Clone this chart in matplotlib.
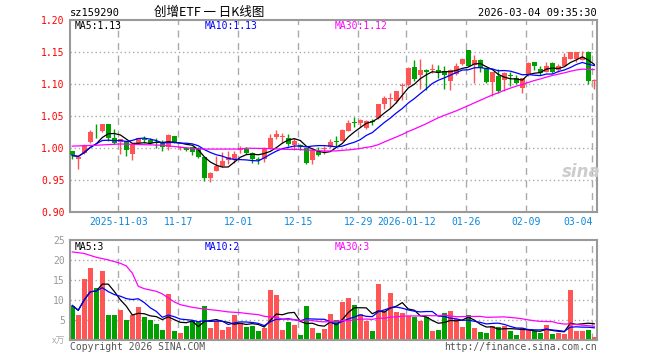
import numpy as np
import pandas as pd
import matplotlib
matplotlib.use("Agg")
import matplotlib.pyplot as plt

# daily OHLC (2025-10-22 .. 2026-03-04), volume in 万
opens = [0.995, 0.982, 0.992, 1.009, 1.030, 1.026, 1.0375, 1.015, 1.009, 1.010,
         0.990, 1.008, 1.0135, 1.0115, 1.009, 1.007, 1.0016, 1.0177, 0.9995, 1.000,
         1.0016, 1.000, 0.985, 0.953, 0.9635, 0.9714, 0.981, 0.982, 0.9964, 0.9984,
         0.992, 0.983, 0.983, 0.999, 1.017, 1.0167, 1.0156, 1.005, 1.0036, 0.9995,
         0.981, 0.9943, 0.9974, 1.001, 1.0104, 1.0104, 1.027, 1.0401, 1.039, 1.031,
         1.0427, 1.046, 1.068, 1.0766, 1.074, 1.0974, 1.098, 1.126, 1.1146, 1.121,
         1.122, 1.1224, 1.120, 1.104, 1.116, 1.1313, 1.1536, 1.1292, 1.138, 1.1234,
         1.1031, 1.113, 1.1068, 1.1135, 1.1094, 1.0938, 1.1135, 1.1338, 1.124, 1.1188,
         1.1328, 1.1214, 1.1286, 1.1396, 1.1396, 1.138, 1.150, 1.1052]
closes = [0.988, 0.985, 1.005, 1.024, 1.029, 1.0375, 1.0146, 1.0068, 1.013, 0.9964,
          1.004, 1.0146, 1.012, 1.0068, 1.0073, 1.0005, 1.0208, 1.0078, 1.0016, 0.9964,
          0.9937, 0.9854, 0.9526, 0.961, 0.9714, 0.979, 0.986, 0.990, 0.9995, 0.992,
          0.983, 0.981, 1.000, 1.016, 1.021, 1.018, 1.006, 1.0104, 1.0016, 0.9766,
          0.997, 0.988, 0.9995, 1.0089, 1.0089, 1.0286, 1.039, 1.0385, 1.043, 1.0427,
          1.0406, 1.068, 1.0776, 1.078, 1.0885, 1.099, 1.125, 1.107, 1.121, 1.119,
          1.1234, 1.119, 1.1135, 1.121, 1.1286, 1.1396, 1.1286, 1.138, 1.125, 1.1031,
          1.1182, 1.0896, 1.1172, 1.112, 1.1016, 1.1094, 1.1328, 1.1276, 1.1172, 1.1286,
          1.118, 1.1286, 1.1417, 1.150, 1.1495, 1.1417, 1.1042, 1.1068]
highs = [0.995, 0.986, 1.006, 1.028, 1.0375, 1.038, 1.038, 1.029, 1.014, 1.011,
         1.005, 1.016, 1.019, 1.015, 1.0146, 1.0115, 1.022, 1.018, 1.003, 1.001,
         1.002, 1.001, 0.986, 0.962, 0.987, 0.9937, 0.995, 0.995, 1.0026, 1.0016,
         0.993, 0.986, 1.001, 1.021, 1.0286, 1.023, 1.022, 1.0146, 1.006, 1.000,
         0.998, 1.001, 1.0026, 1.013, 1.018, 1.029, 1.044, 1.048, 1.045, 1.043,
         1.045, 1.068, 1.081, 1.086, 1.0896, 1.1016, 1.126, 1.138, 1.1396, 1.124,
         1.1318, 1.130, 1.1276, 1.123, 1.133, 1.140, 1.1536, 1.1458, 1.139, 1.124,
         1.119, 1.1234, 1.118, 1.118, 1.1135, 1.110, 1.134, 1.135, 1.1276, 1.1344,
         1.1344, 1.1318, 1.1484, 1.150, 1.150, 1.151, 1.152, 1.107]
lows = [0.982, 0.967, 0.991, 1.008, 1.015, 1.025, 1.011, 1.006, 0.991, 0.987,
        0.981, 1.007, 1.007, 1.006, 0.999, 0.995, 0.997, 1.007, 0.997, 0.995,
        0.988, 0.984, 0.948, 0.9464, 0.963, 0.970, 0.974, 0.9755, 0.992, 0.9896,
        0.9766, 0.974, 0.977, 0.998, 1.013, 1.008, 1.0026, 0.997, 0.997, 0.974,
        0.974, 0.987, 0.9896, 1.000, 1.0026, 1.010, 1.026, 1.033, 1.033, 1.030,
        1.036, 1.045, 1.061, 1.0625, 1.070, 1.0745, 1.097, 1.104, 1.092, 1.091,
        1.117, 1.109, 1.0927, 1.091, 1.1146, 1.130, 1.128, 1.1016, 1.1188, 1.102,
        1.0818, 1.086, 1.0896, 1.096, 1.100, 1.086, 1.112, 1.1214, 1.1135, 1.118,
        1.117, 1.1188, 1.128, 1.139, 1.1344, 1.137, 1.1005, 1.0927]
volumes = [8.7, 6.3, 15.4, 18.1, 13.1, 17.3, 6.3, 6.3, 7.7, 5.1,
           6.3, 8.3, 5.8, 5.1, 4.1, 2.6, 11.7, 2.3, 1.8, 3.6,
           4.8, 4.6, 8.6, 3.1, 4.8, 2.6, 3.3, 6.3, 4.3, 3.3,
           3.6, 2.3, 3.1, 12.6, 11.3, 2.6, 4.6, 3.8, 1.3, 8.6,
           3.1, 1.8, 2.8, 6.6, 5.1, 9.6, 10.6, 8.8, 6.6, 4.9,
           2.3, 14.1, 7.3, 11.8, 7.1, 6.8, 6.1, 5.8, 4.8, 5.8,
           2.3, 2.6, 6.8, 7.3, 5.3, 3.3, 6.3, 3.1, 2.1, 1.8,
           3.6, 3.3, 3.6, 2.3, 1.3, 3.1, 2.8, 2.3, 1.8, 3.8,
           1.6, 1.8, 1.6, 12.6, 2.3, 2.3, 2.6, 0.8]

# MA30 before a full 30-day window exists
ma30_early_idx = [0, 4, 8, 15, 21, 28]
ma30_early_val = [1.0026, 1.004, 1.006, 1.004, 0.998, 0.998]
vma30_early_idx = [0, 2, 4, 6, 8, 9, 10, 11, 12, 14, 15, 16, 17, 18, 20, 22, 24, 26, 28]
vma30_early_val = [22.1, 21.7, 20.75, 20.1, 19.25, 18.6, 16.8, 13.5, 12.9, 12.25,
                   11.6, 10.6, 9.6, 8.9, 8.25, 7.8, 7.5, 7.1, 6.9]

tick_idx = [8, 18, 28, 38, 48, 56, 66, 76, 87]
tick_lbl = ['2025-11-03', '11-17', '12-01', '12-15', '12-29', '2026-01-12',
            '01-26', '02-09', '03-04']

RED = '#ff5555'
GREEN = '#00a000'
GRID = '#aaaaaa'
MONO = 'DejaVu Sans Mono'

n = len(closes)
x = np.arange(n)
o = np.array(opens)
c = np.array(closes)
up = c >= o
colors = [RED if u else GREEN for u in up]

cs = pd.Series(closes)
vs = pd.Series(volumes)
ma5 = cs.rolling(5, min_periods=1).mean()
ma10 = cs.rolling(10, min_periods=1).mean()
ma30 = cs.rolling(30).mean()
vma5 = vs.rolling(5, min_periods=1).mean()
vma10 = vs.rolling(10, min_periods=1).mean()
vma30 = vs.rolling(30).mean()

W, H = 660, 360
fig = plt.figure(figsize=(W / 100, H / 100), dpi=100)


def px_axes(l, t, r, b):
    return fig.add_axes([l / W, 1 - b / H, (r - l) / W, (b - t) / H])


ax = px_axes(70.3, 20, 597.3, 211.7)
axv = px_axes(70.3, 240.3, 597.3, 340.3)

for a in (ax, axv):
    a.set_xlim(-0.33, 87.5)
    for s in a.spines.values():
        s.set_color('#999999')
        s.set_linewidth(1.5)
    for t in tick_idx:
        a.axvline(t - 0.33, color=GRID, lw=1, ls=(0, (5, 4)), zorder=0)

# price panel
for lv in [0.95, 1.00, 1.05, 1.10, 1.15]:
    ax.axhline(lv, color=GRID, lw=1, ls=(0, (1, 2)), zorder=0)
ax.vlines(x, lows, highs, colors=colors, lw=1, zorder=2)
body = np.maximum(np.abs(c - o), 0.0012)
ax.bar(x, body, bottom=np.minimum(o, c), width=0.8, color=colors, zorder=3)
ax.plot(x, ma5, color='black', lw=0.9, zorder=4)
ax.plot(x, ma10, color='#0000ff', lw=0.9, zorder=4)
ma30_x = ma30_early_idx + list(range(29, n))
ma30_y = ma30_early_val + list(ma30[29:])
ax.plot(ma30_x, ma30_y, color='#ff00ff', lw=0.9, zorder=4)
ax.set_ylim(0.90, 1.20)
ax.set_yticks([0.90, 0.95, 1.00, 1.05, 1.10, 1.15, 1.20])
ax.set_yticklabels(['%.2f' % v for v in [0.90, 0.95, 1.00, 1.05, 1.10, 1.15, 1.20]],
                   family=MONO, fontsize=7, color='red')
ax.set_xticks([t - 0.33 for t in tick_idx])
ax.set_xticklabels(tick_lbl, family=MONO, fontsize=7, color='#0a88dd')
ax.get_xticklabels()[-1].set_ha('right')
ax.tick_params(length=0, pad=4)

# volume panel
for lv in [5, 10, 15, 20]:
    axv.axhline(lv, color=GRID, lw=1, ls=(0, (1, 2)), zorder=0)
axv.bar(x, volumes, width=0.8, color=colors, zorder=2)
axv.plot(x, vma5, color='black', lw=0.9, zorder=3)
axv.plot(x, vma10, color='#0000ff', lw=0.9, zorder=3)
vma30_x = vma30_early_idx + list(range(29, n))
vma30_y = vma30_early_val + list(vma30[29:])
axv.plot(vma30_x, vma30_y, color='#ff00ff', lw=0.9, zorder=3)
axv.set_ylim(0, 25)
axv.set_yticks([5, 10, 15, 20, 25])
axv.set_yticklabels(['5', '10', '15', '20', '25'], family=MONO, fontsize=7,
                    color='#999999')
axv.set_xticks([])
axv.tick_params(length=0, pad=4)


def ftext(px, py, s, **kw):
    kw.setdefault('family', MONO)
    kw.setdefault('fontsize', 7)
    kw.setdefault('va', 'center')
    fig.text(px / W, 1 - py / H, s, **kw)


ftext(70, 13, 'sz159290', fontsize=7.5)
ftext(209, 12, '创增ETF 一 日K线图', ha='center', fontsize=9,
      family=['Noto Sans CJK SC', 'DejaVu Sans'])
ftext(597, 13, '2026-03-04 09:35:30', ha='right', fontsize=7.5)

ftext(75, 26, 'MA5:1.13', color='black')
ftext(205, 26, 'MA10:1.13', color='#0000ff')
ftext(335, 26, 'MA30:1.12', color='#ff00ff')
ftext(75, 247, 'MA5:3', color='black')
ftext(205, 247, 'MA10:2', color='#0000ff')
ftext(335, 247, 'MA30:3', color='#ff00ff')

ftext(65, 341, 'x万', ha='right', color='#aaaaaa', fontsize=6.5,
      family=['Noto Sans CJK SC', 'DejaVu Sans'])
ftext(70, 347, 'Copyright 2026 SINA.COM', color='#555555')
ftext(597, 347, 'http://finance.sina.com.cn', ha='right', color='#555555')
ftext(581, 172, 'sina', ha='center', color='#cccccc', fontsize=12,
      family='DejaVu Sans', style='italic', weight='bold')

fig.savefig('out.png', dpi=100)
